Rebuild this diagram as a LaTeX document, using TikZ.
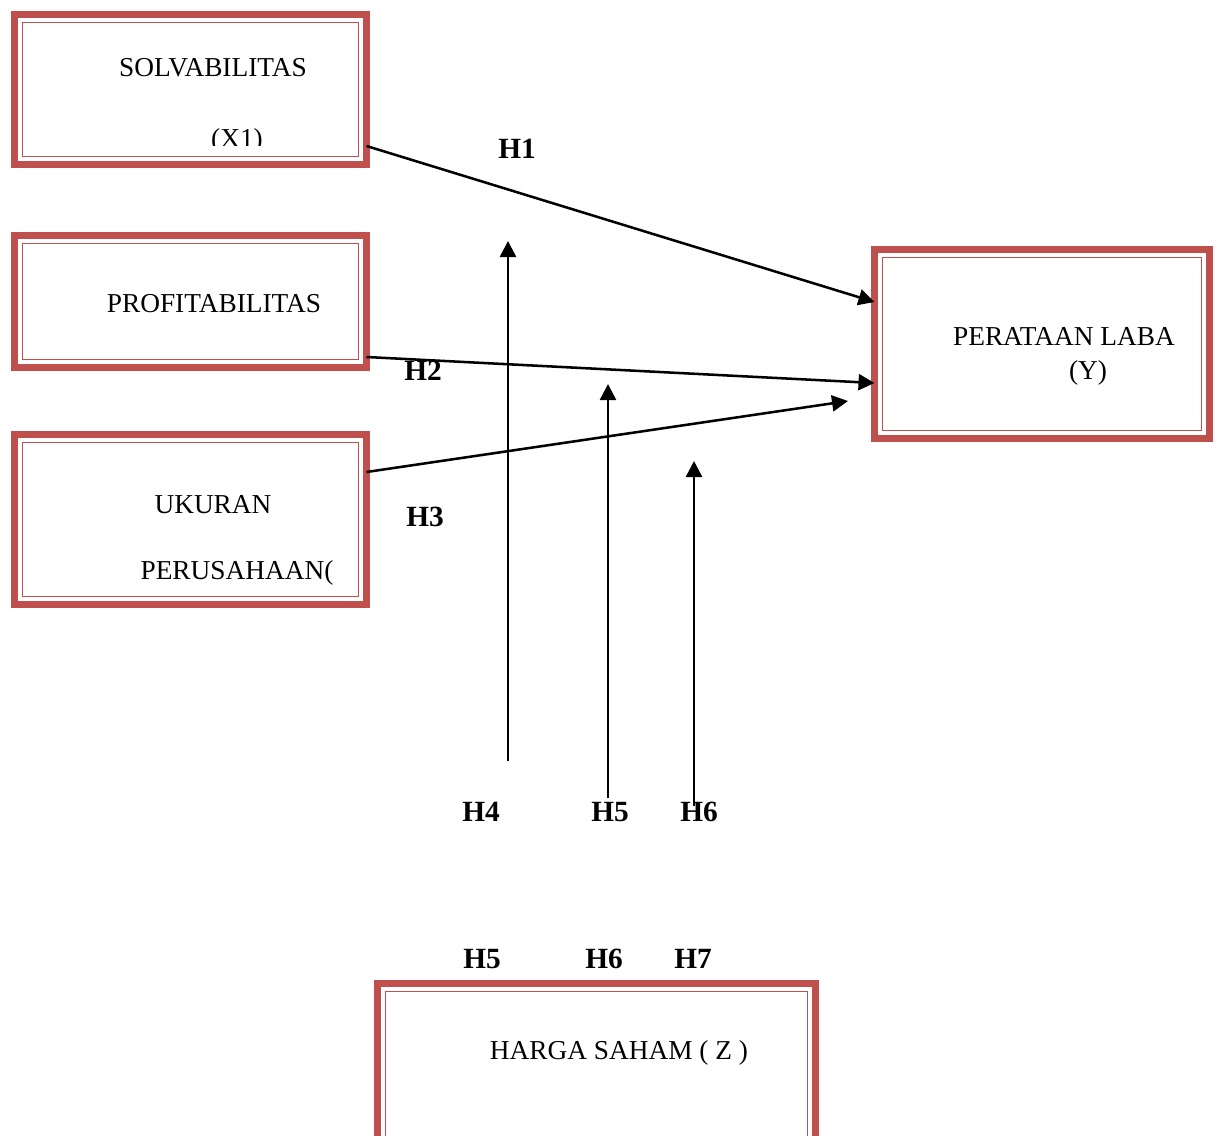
\documentclass[tikz,border=0pt]{standalone}
\usepackage{fontspec}
\setmainfont{Liberation Serif}
\usetikzlibrary{arrows.meta,calc}
\definecolor{boxred}{RGB}{192,80,77}
\tikzset{
  varbox/.style={draw=boxred, line width=5.25pt, rectangle, inner sep=0pt, outer sep=0pt},
  innerline/.style={draw=boxred, line width=1.4pt},
  boxtext/.style={font=\fontsize{20.5}{24}\selectfont, inner sep=0pt, anchor=center},
  hlabel/.style={font=\fontsize{22}{26}\selectfont\bfseries, inner sep=0pt, anchor=center},
  arr/.style={line width=1.9pt, -{Triangle[length=12pt,width=12pt]}},
}
\begin{document}
\begin{tikzpicture}[x=0.75pt,y=-0.75pt]
\useasboundingbox (0,0) rectangle (1219,1135);
\clip (0,0) rectangle (1219,1135);
\fill[white] (0,0) rectangle (1219,1135);
% boxes
\node[varbox, minimum width=352*0.75pt, minimum height=150*0.75pt] (b1) at (190.5,89.5) {};
\node[varbox, minimum width=352*0.75pt, minimum height=132*0.75pt] (b2) at (190.5,301.5) {};
\node[varbox, minimum width=352*0.75pt, minimum height=170*0.75pt] (b3) at (190.5,519.5) {};
\node[varbox, minimum width=335*0.75pt, minimum height=189*0.75pt] (by) at (1042,344) {};
\node[varbox, minimum width=438*0.75pt, minimum height=200*0.75pt] (bz) at (596.5,1083.5) {};
\foreach \n in {b1,b2,b3,by,bz}{
  \draw[innerline] ([shift={(8,8)}]\n.north west) rectangle ([shift={(-8,-8)}]\n.south east);
}
% box texts
\node[boxtext] (t1) at (213,68) {SOLVABILITAS};
\begin{scope}
\clip (0,0) rectangle (400,145);
\node[boxtext] (t1b) at (237,141) {(X1)};
\end{scope}
\node[boxtext] (t2) at (214,304) {PROFITABILITAS};
\node[boxtext] (t3) at (213,505) {UKURAN};
\node[boxtext] (t3b) at (237,573) {PERUSAHAAN(};
\node[boxtext] (ty) at (1064,337) {PERATAAN LABA};
\node[boxtext] (tyb) at (1088,373) {(Y)};
\node[boxtext] (tz) at (619,1053) {HARGA SAHAM ( Z )};
% labels
\node[hlabel] (h1) at (517,149) {H1};
\node[hlabel] (h2) at (423,371) {H2};
\node[hlabel] (h3) at (425,517) {H3};
\node[hlabel] (h4) at (481,812) {H4};
\node[hlabel] (h5) at (610,812) {H5};
\node[hlabel] (h6) at (699,812) {H6};
\node[hlabel] (h5b) at (482,959) {H5};
\node[hlabel] (h6b) at (604,959) {H6};
\node[hlabel] (h7) at (693,959) {H7};
% connectors
\draw[arr] (b1.east |- 0,146) -- (by.west |- 0,302);
\draw[arr] (b2.east |- 0,357) -- (by.west |- 0,383);
\coordinate (e3) at (848,401);
\draw[arr] (b3.east |- 0,472) -- (e3);
\coordinate (s4) at (508,761);
\coordinate (e4) at (508,241);
\draw[arr] (s4) -- (e4);
\coordinate (s5) at (608,798);
\coordinate (e5) at (608,384);
\draw[arr] (s5) -- (e5);
\coordinate (s6) at (694,806);
\coordinate (e6) at (694,461);
\draw[arr] (s6) -- (e6);
\end{tikzpicture}
\end{document}
